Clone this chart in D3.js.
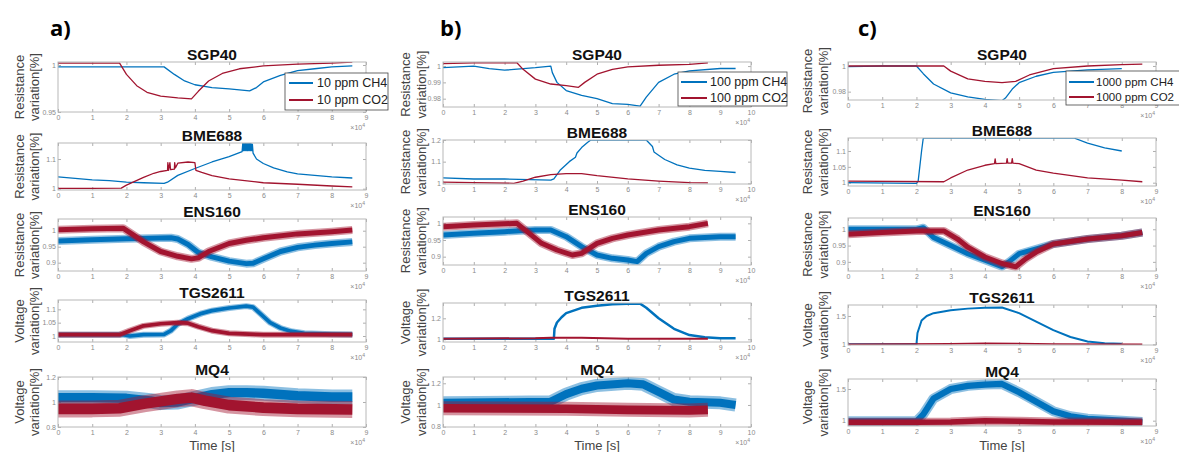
<!DOCTYPE html>
<meta charset="utf-8">
<script src="https://d3js.org/d3.v7.min.js"></script>
<style>
body { margin: 0; background: #fff; }
text { font-family: "Liberation Sans", Arial, sans-serif; }
.tick-label { font-size: 7px; fill: #8a8a8a; }
.sensor-title { font-size: 15.5px; font-weight: bold; fill: #111; }
.axis-title { font-size: 13px; fill: #444; }
.legend-text { font-size: 12.5px; fill: #222; }
.panel-letter { font-family: "Open Sans", sans-serif; font-size: 22px; font-weight: bold; fill: #000; }
</style>

<div id="my_dataviz"></div>

<script>
// ---------- data: x in units of 10^4 s ----------
var panelLetters = ["a)", "b)", "c)"];
var sensorNames = ["SGP40", "BME688", "ENS160", "TGS2611", "MQ4"];
var yTitles = ["Resistance", "Resistance", "Resistance", "Voltage", "Voltage"];
var legendA = ["10 ppm CH4", "10 ppm CO2"];
var legendB = ["100 ppm CH4", "100 ppm CO2"];
var legendC = ["1000 ppm CH4", "1000 ppm CO2"];
var xMaxA = 9, xMaxB = 10, xMaxC = 9;

// y domains and tick values per column (rows: SGP40, BME688, ENS160, TGS2611, MQ4)
var yDomainA = [[0.95, 1.0032], [0.9956, 1.154], [0.874, 1.0366], [0.9775, 1.135], [0.8, 1.2]];
var yDomainB = [[0.9749, 1.0025], [0.9968, 1.2], [0.875, 1.019], [0.974, 1.346], [0.797, 1.258]];
var yDomainC = [[0.9735, 1.0031], [0.9896, 1.141], [0.872, 1.0346], [0.988, 1.694], [0.916, 1.658]];
var yTicksA = [[0.95, 1], [1, 1.1], [0.9, 0.95, 1], [1, 1.05, 1.1], [0.8, 1, 1.2]];
var yTicksB = [[0.98, 0.99, 1], [1, 1.1, 1.2], [0.9, 0.95, 1], [1, 1.2], [0.8, 1, 1.2]];
var yTicksC = [[0.98, 1], [1, 1.05, 1.1], [0.9, 0.95, 1], [1, 1.5], [1, 1.5]];

// ---- a) 10 ppm ----
var aSGP40CH4 = [[0,0.998],[1,0.998],[2,0.998],[3.1,0.998],[3.4,0.99],[3.7,0.983],[4,0.979],[4.5,0.976],[5,0.9745],[5.6,0.9725],[5.8,0.976],[6,0.982],[6.5,0.989],[7,0.994],[7.5,0.996],[8,0.998],[8.6,0.999]];
var aSGP40CO2 = [[0,1.002],[1,1.002],[1.8,1.002],[2,0.99],[2.3,0.978],[2.6,0.971],[3,0.967],[3.5,0.965],[3.9,0.964],[4.1,0.972],[4.4,0.983],[4.8,0.991],[5.3,0.996],[6,0.999],[7,1.001],[8,1.002],[8.6,1.003]];
var aBME688CH4 = [[0,1.04],[0.5,1.035],[1,1.03],[1.5,1.027],[2,1.022],[2.5,1.02],[3.1,1.018],[3.2,1.022],[3.5,1.045],[4,1.068],[4.5,1.09],[5,1.108],[5.38,1.125],
  [5.4,1.153],[5.42,1.128],[5.44,1.153],[5.46,1.128],[5.48,1.153],[5.5,1.128],[5.52,1.153],[5.54,1.128],[5.56,1.153],[5.58,1.128],[5.6,1.153],[5.62,1.128],[5.64,1.153],[5.66,1.128],[5.68,1.15],
  [5.7,1.12],[5.8,1.1],[6,1.085],[6.3,1.07],[6.7,1.057],[7,1.05],[7.5,1.045],[8,1.04],[8.6,1.036]];
var aBME688CO2 = [[0,1.001],[1,1.001],[1.85,1.002],[2,1.012],[2.5,1.038],[2.8,1.052],[3,1.058],[3.2,1.062],[3.21,1.088],[3.23,1.062],[3.27,1.088],[3.29,1.064],[3.4,1.066],[3.41,1.088],[3.43,1.07],
  [3.5,1.086],[3.8,1.09],[4,1.088],[4.03,1.062],[4.2,1.055],[4.5,1.044],[5,1.033],[6,1.02],[7,1.015],[8,1.009],[8.6,1.006]];
var aENS160CH4 = [[0,0.968],[1,0.972],[2,0.975],[3,0.977],[3.3,0.978],[3.5,0.974],[3.8,0.957],[4.1,0.932],[4.5,0.918],[5,0.905],[5.5,0.897],[5.7,0.898],[6,0.912],[6.5,0.935],[7,0.948],[7.5,0.955],[8,0.96],[8.6,0.965]];
var aENS160CO2 = [[0,1.003],[1,1.006],[1.9,1.008],[2.2,0.987],[2.5,0.965],[3,0.935],[3.5,0.92],[3.9,0.912],[4.1,0.915],[4.4,0.935],[5,0.96],[5.5,0.97],[6,0.978],[7,0.99],[8,0.997],[8.6,1.002]];
var aTGS2611CH4 = [[0,1.005],[1.9,1.005],[2.1,1.0],[2.5,1.005],[3.1,1.006],[3.3,1.02],[3.5,1.045],[3.8,1.065],[4.2,1.085],[4.5,1.095],[5,1.105],[5.5,1.112],[5.7,1.108],[5.9,1.085],[6.2,1.05],[6.5,1.03],[6.8,1.018],[7.2,1.01],[8,1.007],[8.6,1.006]];
var aTGS2611CO2 = [[0,1.005],[1.8,1.005],[2.1,1.02],[2.5,1.038],[3,1.046],[3.5,1.05],[3.8,1.048],[4.1,1.035],[4.5,1.02],[5,1.01],[6,1.005],[8.6,1.005]];
var aMQ4CH4 = [[0,1.035],[1,1.035],[2,1.03],[2.7,1.01],[3,0.995],[3.5,1.0],[4,1.03],[4.5,1.06],[5,1.075],[5.5,1.075],[6,1.07],[7,1.05],[8,1.04],[8.6,1.04]];
var aMQ4CO2 = [[0,0.945],[1,0.945],[1.8,0.95],[2.5,0.985],[3,1.005],[3.5,1.025],[3.9,1.035],[4.3,1.01],[5,0.975],[6,0.955],[7,0.945],[8.6,0.94]];

// ---- b) 100 ppm ----
var bSGP40CH4 = [[0,0.999],[1,1.0],[1.5,0.9985],[2,0.9975],[3,0.999],[3.5,1.0],[3.55,0.996],[3.7,0.99],[4,0.985],[4.5,0.982],[5,0.98],[5.5,0.977],[6,0.9765],[6.4,0.9755],[6.6,0.981],[7,0.99],[7.5,0.995],[8,0.997],[9,0.9985],[9.5,0.9985]];
var bSGP40CO2 = [[0,1.0015],[1,1.002],[2.4,1.002],[2.6,0.998],[3,0.992],[3.5,0.989],[4,0.988],[4.4,0.987],[4.6,0.99],[5,0.995],[5.5,0.998],[6,0.9995],[7,1.0005],[8,1.001],[8.6,1.002]];
var bBME688CH4 = [[0,1.025],[1,1.02],[2,1.02],[3.5,1.015],[3.6,1.02],[3.8,1.06],[4.1,1.1],[4.3,1.12],[4.35,1.14],[4.5,1.165],[4.7,1.19],[4.8,1.2],[6.6,1.2],[6.8,1.17],[6.85,1.145],[7,1.13],[7.2,1.11],[7.6,1.085],[8,1.07],[8.5,1.06],[9,1.055],[9.5,1.05]];
var bBME688CO2 = [[0,1.005],[1,1.003],[2.3,1.0],[2.6,1.01],[3,1.028],[3.5,1.04],[4,1.045],[4.5,1.045],[5,1.035],[6,1.02],[7,1.01],[8,1.003],[8.6,1.002]];
var bENS160CH4 = [[0,0.965],[1,0.97],[2,0.975],[2.5,0.978],[3,0.98],[3.5,0.98],[4,0.96],[4.5,0.93],[5,0.905],[5.5,0.895],[6,0.89],[6.3,0.885],[6.6,0.91],[7,0.93],[7.5,0.945],[8,0.955],[9,0.96],[9.5,0.96]];
var bENS160CO2 = [[0,0.99],[1,0.995],[2.4,1.0],[2.8,0.97],[3.2,0.94],[3.7,0.92],[4.2,0.905],[4.5,0.91],[5,0.94],[5.5,0.955],[6,0.965],[7,0.98],[8,0.99],[8.6,1.0]];
var bTGS2611CH4 = [[0,1.005],[3.6,1.005],[3.62,1.1],[3.7,1.16],[3.85,1.21],[4,1.25],[4.5,1.3],[5,1.32],[5.5,1.335],[6,1.34],[6.4,1.34],[6.6,1.3],[7,1.2],[7.5,1.1],[8,1.04],[8.5,1.02],[9,1.01],[9.5,1.01]];
var bTGS2611CO2 = [[0,1.005],[3,1.01],[3.5,1.015],[4.5,1.015],[6,1.005],[8.6,1.005]];
var bMQ4CH4 = [[0,1.02],[3.5,1.03],[4,1.1],[4.5,1.15],[5,1.18],[6,1.2],[6.5,1.19],[7,1.12],[7.5,1.05],[8,1.03],[9,1.02],[9.5,1.0]];
var bMQ4CO2 = [[0,0.97],[4,0.965],[6,0.955],[8,0.95],[8.6,0.955]];

// ---- c) 1000 ppm ----
var cSGP40CH4 = [[0,0.9995],[1,1.0],[2,1.0],[2.2,0.994],[2.5,0.986],[3,0.979],[3.5,0.976],[4,0.974],[4.5,0.973],[4.6,0.975],[4.8,0.982],[5,0.987],[5.5,0.992],[6,0.995],[7,0.997],[8,0.998]];
var cSGP40CO2 = [[0,1.0],[2,1.0],[2.8,1.0],[3,0.996],[3.5,0.99],[4,0.988],[4.5,0.987],[4.9,0.988],[5.3,0.993],[6,0.998],[7,1.0],[8,1.001],[8.6,1.0015]];
var cBME688CH4 = [[0,1.0],[2,0.998],[2.05,1.005],[2.15,1.1],[2.2,1.141],[6.6,1.141],[7,1.125],[7.5,1.11],[8,1.1]];
var cBME688CO2 = [[0,1.005],[2.8,1.003],[3,1.015],[3.5,1.04],[4,1.055],[4.28,1.06],[4.3,1.075],[4.32,1.06],[4.63,1.062],[4.65,1.076],[4.67,1.062],[4.78,1.062],[4.8,1.076],[4.82,1.062],[5,1.06],[5.5,1.04],[6,1.03],[7,1.015],[8,1.008],[8.6,1.003]];
var cENS160CH4 = [[0,1.0],[2,1.0],[2.2,1.005],[2.5,0.975],[3,0.95],[3.5,0.925],[4,0.905],[4.5,0.885],[4.7,0.9],[5,0.925],[5.5,0.94],[6,0.955],[7,0.97],[8,0.98],[8.6,0.99]];
var cENS160CO2 = [[0,0.985],[1,0.99],[2,0.995],[2.8,0.995],[3.2,0.97],[3.5,0.945],[4,0.915],[4.5,0.895],[4.9,0.885],[5.2,0.91],[5.5,0.93],[6,0.955],[7,0.97],[8,0.98],[8.6,0.99]];
var cTGS2611CH4 = [[0,1.0],[2,1.0],[2.03,1.2],[2.15,1.42],[2.3,1.5],[2.5,1.55],[3,1.6],[3.5,1.63],[4,1.645],[4.5,1.65],[5,1.55],[5.5,1.4],[6,1.25],[6.5,1.13],[7,1.05],[7.5,1.02],[8,1.01]];
var cTGS2611CO2 = [[0,1.0],[3,1.01],[4,1.02],[5,1.015],[6,1.005],[8.6,1.0]];
var cMQ4CH4 = [[0,0.99],[2,0.99],[2.2,1.1],[2.5,1.35],[3,1.5],[3.5,1.55],[4,1.57],[4.5,1.58],[5,1.45],[5.5,1.3],[6,1.15],[6.5,1.07],[7,1.03],[8,1.0],[8.6,0.98]];
var cMQ4CO2 = [[0,0.975],[2,0.975],[3,0.98],[4,1.0],[5,0.99],[6,0.98],[8.6,0.975]];

// tables built from the arrays above
var columns = [
  { letter: panelLetters[0], xMax: xMaxA, legend: legendA, domains: yDomainA, ticks: yTicksA,
    series: [[aSGP40CH4, aSGP40CO2], [aBME688CH4, aBME688CO2], [aENS160CH4, aENS160CO2], [aTGS2611CH4, aTGS2611CO2], [aMQ4CH4, aMQ4CO2]] },
  { letter: panelLetters[1], xMax: xMaxB, legend: legendB, domains: yDomainB, ticks: yTicksB,
    series: [[bSGP40CH4, bSGP40CO2], [bBME688CH4, bBME688CO2], [bENS160CH4, bENS160CO2], [bTGS2611CH4, bTGS2611CO2], [bMQ4CH4, bMQ4CO2]] },
  { letter: panelLetters[2], xMax: xMaxC, legend: legendC, domains: yDomainC, ticks: yTicksC,
    series: [[cSGP40CH4, cSGP40CO2], [cBME688CH4, cBME688CO2], [cENS160CH4, cENS160CO2], [cTGS2611CH4, cTGS2611CO2], [cMQ4CH4, cMQ4CO2]] }
];

// ---------- layout and style ----------
var colors = ["#0072BD", "#A2142F"];
var colLeft = [58, 443, 848], colRight = [366, 751, 1156];
var rowBoxes = [
  [[62, 112], [143, 190], [219, 271], [300, 342], [377, 427]],
  [[62, 107], [140, 184], [217, 265], [303, 342], [377, 427]],
  [[62, 100], [138, 186], [218, 271], [305, 345], [379, 426]]
];
var yTitleX = [[20, 35], [406, 422], [808, 824]];
var letterPos = [[50, 36], [440, 36], [858, 36]];
// stroke width per series: noisy traces are drawn as a fuzzy band
var lineWidths = [
  [[1.3, 1.3], [1.3, 1.3], [8, 8], [6, 6], [15, 17]],
  [[1.3, 1.3], [1.3, 1.3], [8, 8], [2.5, 2], [13, 14]],
  [[1.3, 1.3], [1.3, 1.3], [8, 8], [2, 1.5], [10, 9]]
];
var legendBox = [
  { x: 285, y: 73, w: 103, h: 37, rows: [83, 100], x1: 289, x2: 313, tx: 317, fs: 12.5 },
  { x: 678, y: 72, w: 109, h: 34, rows: [82, 98], x1: 681, x2: 707, tx: 710, fs: 12.5 },
  { x: 1066, y: 71, w: 124, h: 34, rows: [82, 97], x1: 1069, x2: 1094, tx: 1096, fs: 11.5 }
];

var svg = d3.select("#my_dataviz")
  .append("svg")
    .attr("width", 1179)
    .attr("height", 452);

columns.forEach(function(col, ci) {
  var xScale = d3.scaleLinear()
    .domain([0, col.xMax])
    .range([colLeft[ci], colRight[ci]]);

  svg.append("text")
    .attr("class", "panel-letter")
    .attr("x", letterPos[ci][0])
    .attr("y", letterPos[ci][1])
    .text(col.letter);

  sensorNames.forEach(function(name, ri) {
    var top = rowBoxes[ci][ri][0], bottom = rowBoxes[ci][ri][1];
    var yScale = d3.scaleLinear()
      .domain(col.domains[ri])
      .range([bottom, top]);
    var g = svg.append("g");
    var clipId = "clip" + ci + ri;

    g.append("clipPath").attr("id", clipId)
      .append("rect")
        .attr("x", colLeft[ci]).attr("y", top)
        .attr("width", colRight[ci] - colLeft[ci]).attr("height", bottom - top);

    // tick marks on all four sides, pointing in (MATLAB box style)
    var xTicks = d3.range(0, col.xMax + 1);
    var tickColor = "#9a9a9a";
    var bx = g.append("g").attr("transform", "translate(0," + bottom + ")")
      .call(d3.axisBottom(xScale).tickValues(xTicks).tickSize(-3).tickPadding(3));
    var tx = g.append("g").attr("transform", "translate(0," + top + ")")
      .call(d3.axisTop(xScale).tickValues(xTicks).tickSize(-3).tickFormat(""));
    var ly = g.append("g").attr("transform", "translate(" + colLeft[ci] + ",0)")
      .call(d3.axisLeft(yScale).tickValues(col.ticks[ri]).tickSize(-3).tickPadding(2)
        .tickFormat(function(d) { return d3.format("~g")(d); }));
    var ry = g.append("g").attr("transform", "translate(" + colRight[ci] + ",0)")
      .call(d3.axisRight(yScale).tickValues(col.ticks[ri]).tickSize(-3).tickFormat(""));
    [bx, tx, ly, ry].forEach(function(a) {
      a.select(".domain").remove();
      a.selectAll("line").attr("stroke", tickColor).attr("stroke-width", 0.8);
      a.selectAll("text").attr("class", "tick-label").attr("font-family", null).attr("font-size", null).attr("fill", null);
    });

    // data lines
    var line = d3.line()
      .x(function(d) { return xScale(d[0]); })
      .y(function(d) { return yScale(d[1]); });
    col.series[ri].forEach(function(s, si) {
      var w = lineWidths[ci][ri][si];
      if (w > 3) {
        // soft outer edge for the noise band
        g.append("path")
          .datum(s)
          .attr("clip-path", "url(#" + clipId + ")")
          .attr("fill", "none")
          .attr("stroke", colors[si])
          .attr("stroke-opacity", 0.45)
          .attr("stroke-width", w)
          .attr("stroke-linejoin", "round")
          .attr("d", line);
      }
      g.append("path")
        .datum(s)
        .attr("clip-path", "url(#" + clipId + ")")
        .attr("fill", "none")
        .attr("stroke", colors[si])
        .attr("stroke-width", w > 3 ? w * 0.62 : w)
        .attr("stroke-linejoin", "round")
        .attr("d", line);
    });

    // axes box
    g.append("rect")
      .attr("x", colLeft[ci]).attr("y", top)
      .attr("width", colRight[ci] - colLeft[ci]).attr("height", bottom - top)
      .attr("fill", "none")
      .attr("stroke", "#b8b8b8")
      .attr("stroke-width", 1);

    // title
    g.append("text")
      .attr("class", "sensor-title")
      .attr("x", (colLeft[ci] + colRight[ci]) / 2)
      .attr("y", top - 2)
      .attr("text-anchor", "middle")
      .text(name);

    // exponent note
    var ex = g.append("text")
      .attr("class", "tick-label")
      .attr("x", colRight[ci] - 1)
      .attr("y", bottom + 18)
      .attr("text-anchor", "end")
      .text("\u00d710");
    ex.append("tspan").attr("dy", -3).attr("font-size", "5px").text("4");

    // y title (two lines)
    var mid = (top + bottom) / 2;
    [yTitles[ri], "variation[%]"].forEach(function(t, li) {
      g.append("text")
        .attr("class", "axis-title")
        .attr("text-anchor", "middle")
        .attr("transform", "translate(" + (yTitleX[ci][li] + 4) + "," + mid + ") rotate(-90)")
        .text(t);
    });
  });

  // x axis title under the last panel
  svg.append("text")
    .attr("class", "axis-title")
    .attr("x", (colLeft[ci] + colRight[ci]) / 2)
    .attr("y", 450)
    .attr("text-anchor", "middle")
    .text("Time [s]");

  // legend in the first panel
  var lb = legendBox[ci];
  var lg = svg.append("g");
  lg.append("rect")
    .attr("x", lb.x).attr("y", lb.y).attr("width", lb.w).attr("height", lb.h)
    .attr("fill", "#fff").attr("stroke", "#444").attr("stroke-width", 0.8);
  col.legend.forEach(function(t, i) {
    lg.append("line")
      .attr("x1", lb.x1).attr("x2", lb.x2)
      .attr("y1", lb.rows[i]).attr("y2", lb.rows[i])
      .attr("stroke", colors[i]).attr("stroke-width", 2);
    lg.append("text")
      .attr("class", "legend-text")
      .attr("x", lb.tx).attr("y", lb.rows[i])
      .attr("dy", "0.35em")
      .style("font-size", lb.fs + "px")
      .text(t);
  });
});
</script>
